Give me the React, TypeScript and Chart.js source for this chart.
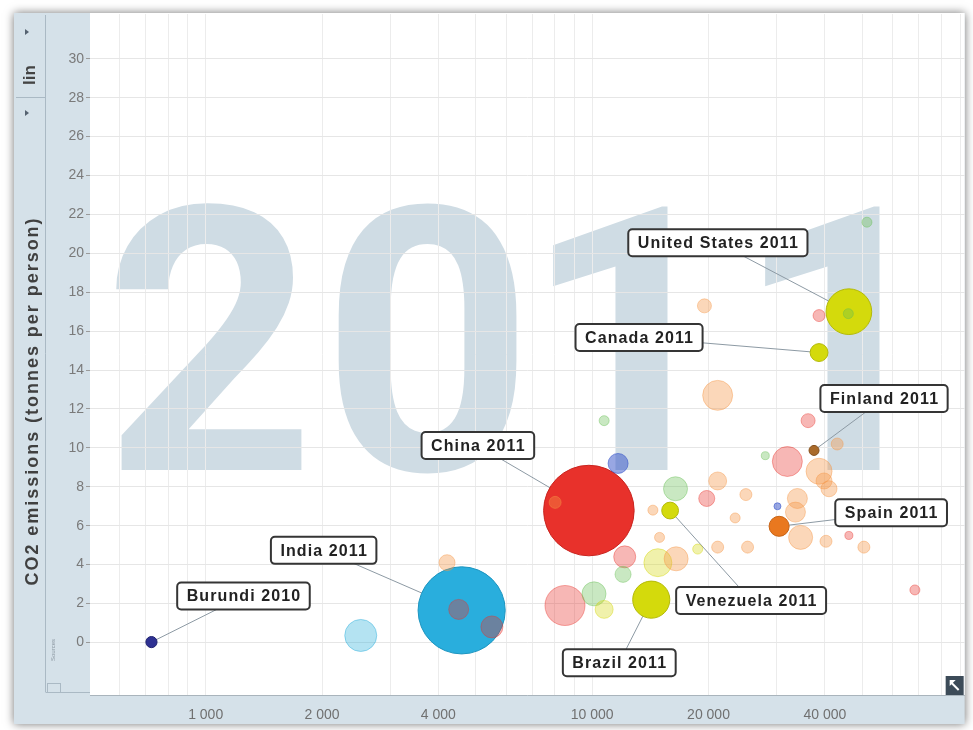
import React, { useEffect, useRef } from 'react';
import { Chart, registerables } from 'chart.js';

Chart.register(...registerables);

// ---------- text ----------
const YEAR = '2011';
const Y_TITLE = 'CO2 emissions (tonnes per person)';
const Y_SCALE_MODE = 'lin';
const SOURCES_TEXT = 'Sources';

// ---------- axes ----------
const X_MIN = 502;
const X_MAX = 92000;
const Y_MIN = -2.7;
const Y_MAX = 32.3;

const xLabelValues = [1000, 2000, 4000, 10000, 20000, 40000];
const xLabelTexts = ['1 000', '2 000', '4 000', '10 000', '20 000', '40 000'];
const xGridValues = [
  600, 700, 800, 900, 1000, 2000, 3000, 4000, 5000, 6000, 7000, 8000, 9000,
  10000, 20000, 30000, 40000, 50000, 60000, 70000, 80000, 90000,
];
const yTickValues = [0, 2, 4, 6, 8, 10, 12, 14, 16, 18, 20, 22, 24, 26, 28, 30];

// ---------- labelled countries ----------
const labeledNames = ['Burundi', 'India', 'China', 'United States', 'Canada', 'Finland', 'Spain', 'Venezuela', 'Brazil'];
const labeledYears = ['2010', '2011', '2011', '2011', '2011', '2011', '2011', '2011', '2011'];
const labeledRegions = ['af', 'sa', 'ea', 'am', 'am', 'eu', 'eu', 'am', 'am'];
const labeledGdp = [724, 4595, 9806, 46150, 38640, 37500, 30460, 15910, 14220];
const labeledCo2 = [0.02, 1.65, 6.78, 17.0, 14.9, 9.87, 5.97, 6.78, 2.2];
const labeledPop = [9.2, 1241, 1344, 312, 34.5, 5.4, 46.2, 29.3, 196.7];

// ---------- other (faded) countries ----------
const otherRegions = [
  'me', 'eu', 'ea', 'eu', 'ea', 'eu', 'me', 'ea', 'eu', 'eu', 'eu', 'eu', 'me', 'ea', 'eu',
  'eu', 'eu', 'af', 'eu', 'eu', 'eu', 'ea', 'eu', 'eu', 'eu', 'eu', 'am', 'am', 'eu', 'eu',
  'ea', 'me', 'af', 'me', 'eu', 'ea', 'me', 'am', 'sa', 'eu', 'ea', 'ea', 'ea', 'me',
];
const otherGdp = [
  51400, 19520, 38640, 21120, 36200, 43050, 28050, 31990, 38640, 39800, 41000, 21120, 16430, 19790, 24990,
  33960, 33570, 30160, 14360, 23440, 34620, 46150, 40270, 50470, 25240, 21120, 18750, 14790, 16490, 14940,
  12140, 12020, 11670, 10740, 8020, 8505, 10110, 10740, 2519, 4212, 4515, 5503, 68390, 46000,
];
const otherCo2 = [
  21.6, 17.3, 16.8, 12.7, 11.4, 10.2, 9.6, 9.3, 8.8, 8.3, 7.9, 8.3, 7.9, 7.4, 7.6,
  7.4, 6.7, 7.0, 6.8, 6.4, 5.4, 5.5, 5.2, 4.9, 4.9, 4.9, 4.8, 4.1, 4.3, 5.4,
  4.4, 3.5, 9.2, 11.4, 7.2, 1.9, 2.5, 1.7, 0.36, 4.1, 1.7, 0.8, 2.7, 16.9,
];
const otherPop = [
  6.5, 18, 11.5, 121, 18, 11.5, 2.9, 121, 87, 26, 26, 35, 72, 26, 11.5,
  46, 46, 0.7, 6.5, 6.5, 72, 2.9, 11.5, 11.5, 11.5, 11.5, 6.5, 103, 72, 6.5,
  58, 26, 46, 6.5, 11.5, 233, 72, 35, 141, 26, 46, 58, 6.5, 6.5,
];

// ---------- styles ----------
const FONT = '"Liberation Sans", Arial, Helvetica, sans-serif';
const WATERMARK_FONT = 'Roboto, "Liberation Sans", Arial, sans-serif';
const PANEL = '#d5e1e9';
const WATERMARK = '#cfdce4';
const REGION_FADED: Record<string, string> = {
  af: 'rgba(50,80,200,0.5)',
  sa: 'rgba(41,174,219,0.35)',
  ea: 'rgba(232,50,43,0.35)',
  am: 'rgba(213,216,15,0.35)',
  eu: 'rgba(245,150,70,0.38)',
  me: 'rgba(100,190,80,0.35)',
};
const REGION_FADED_BORDER: Record<string, string> = {
  af: 'rgba(50,80,200,0.55)',
  sa: 'rgba(41,174,219,0.45)',
  ea: 'rgba(232,50,43,0.4)',
  am: 'rgba(213,216,15,0.45)',
  eu: 'rgba(245,150,70,0.42)',
  me: 'rgba(100,190,80,0.4)',
};
const LABELED_FILL = ['#2e3192', '#29aedd', '#e8312b', '#d4da0c', '#d4da0c', '#a96a2a', '#e9781f', '#d4da0c', '#d4da0c'];
const LABELED_BORDER = ['#1f2270', '#1d95c0', '#c92520', '#b4ba08', '#b4ba08', '#85501c', '#c86416', '#b4ba08', '#b4ba08'];
const LABEL_OFFSETS: [number, number][] = [
  [92, -46], [-138, -60], [-111, -65], [-131, -69], [-180, -15], [70, -52], [112, -13.5], [81, 90], [-32, 63],
];
// watermark glyph anchors relative to the chart area: [inkEdge x, 'left' | 'right']
const WATERMARK_ANCHORS: [number, 'left' | 'right'][] = [[25, 'left'], [243, 'left'], [583, 'right'], [795, 'right']];
const WATERMARK_BASE = 456;
const WATERMARK_HEIGHT = 270;

const radiusFor = (pop: number, minR: number) => Math.max(minR, 2 + 1.18 * Math.sqrt(pop));

type Pt = { x: number; y: number; r: number; fill: string; border: string; label: number };

function buildPoints(): Pt[] {
  const pts: Pt[] = [];
  otherGdp.forEach((g, i) => {
    pts.push({
      x: g, y: otherCo2[i], r: radiusFor(otherPop[i], 3.5),
      fill: REGION_FADED[otherRegions[i]], border: REGION_FADED_BORDER[otherRegions[i]], label: -1,
    });
  });
  labeledGdp.forEach((g, i) => {
    pts.push({
      x: g, y: labeledCo2[i], r: radiusFor(labeledPop[i], 5),
      fill: LABELED_FILL[i], border: LABELED_BORDER[i], label: i,
    });
  });
  pts.sort((a, b) => b.r - a.r);
  return pts;
}

export default function App() {
  const ref = useRef<HTMLCanvasElement>(null);

  useEffect(() => {
    document.body.style.margin = '0';
    const canvas = ref.current;
    if (!canvas) return;
    const points = buildPoints();
    let chart: any = null;
    let cancelled = false;

    const framePlugin = {
      id: 'frame',
      beforeDraw(chart: any) {
        const { ctx, chartArea: a } = chart;
        const fl = 14, ft = 13, fr = a.right, fb = 724;
        ctx.save();
        ctx.fillStyle = '#ffffff';
        ctx.fillRect(0, 0, chart.width, chart.height);
        ctx.shadowColor = 'rgba(0,0,0,0.55)';
        ctx.shadowBlur = 9;
        ctx.fillStyle = PANEL;
        ctx.fillRect(fl, ft, fr - fl, fb - ft);
        ctx.shadowColor = 'transparent';
        ctx.shadowBlur = 0;
        ctx.fillStyle = '#ffffff';
        ctx.fillRect(a.left, ft, a.right - a.left, a.bottom - ft);

        // watermark year
        ctx.fillStyle = WATERMARK;
        ctx.textBaseline = 'alphabetic';
        ctx.textAlign = 'left';
        ctx.font = `bold 100px ${WATERMARK_FONT}`;
        const h100 = ctx.measureText('2').actualBoundingBoxAscent || 71;
        const size = (WATERMARK_HEIGHT / h100) * 100;
        ctx.font = `bold ${size.toFixed(1)}px ${WATERMARK_FONT}`;
        YEAR.split('').forEach((ch, i) => {
          const m = ctx.measureText(ch);
          const [ax, side] = WATERMARK_ANCHORS[i] || [0, 'left'];
          const x = side === 'left'
            ? a.left + ax + m.actualBoundingBoxLeft
            : a.left + ax - m.actualBoundingBoxRight;
          ctx.fillText(ch, x, a.top + WATERMARK_BASE);
        });

        // left panel decorations
        ctx.strokeStyle = '#aab9c4';
        ctx.lineWidth = 1;
        ctx.beginPath();
        ctx.moveTo(45.5, ft + 2);
        ctx.lineTo(45.5, 692);
        ctx.moveTo(fl + 2, 97.5);
        ctx.lineTo(45.5, 97.5);
        ctx.moveTo(45.5, 692.5);
        ctx.lineTo(a.left, 692.5);
        ctx.stroke();
        ctx.strokeRect(47.5, 683.5, 13, 9);

        // small arrows
        ctx.fillStyle = '#556270';
        [32, 113].forEach((yy) => {
          ctx.beginPath();
          ctx.moveTo(25, yy - 3);
          ctx.lineTo(29, yy);
          ctx.lineTo(25, yy + 3);
          ctx.closePath();
          ctx.fill();
        });

        // "lin"
        ctx.save();
        ctx.translate(30, 75);
        ctx.rotate(-Math.PI / 2);
        ctx.fillStyle = '#444';
        ctx.font = `bold 17px ${FONT}`;
        ctx.textAlign = 'center';
        ctx.textBaseline = 'middle';
        ctx.fillText(Y_SCALE_MODE, 0, 0);
        ctx.restore();

        // y title
        ctx.save();
        ctx.translate(33, 401);
        ctx.rotate(-Math.PI / 2);
        ctx.fillStyle = '#404040';
        ctx.font = `bold 18px ${FONT}`;
        const w0 = ctx.measureText(Y_TITLE).width;
        const ls = Math.max(0, (367 - w0) / (Y_TITLE.length - 1));
        (ctx as any).letterSpacing = `${ls.toFixed(2)}px`;
        ctx.textAlign = 'center';
        ctx.textBaseline = 'middle';
        ctx.fillText(Y_TITLE, 0, 0);
        ctx.restore();

        // sources (tiny)
        ctx.save();
        ctx.translate(53, 650);
        ctx.rotate(-Math.PI / 2);
        ctx.fillStyle = '#8a96a0';
        ctx.font = `6px ${FONT}`;
        ctx.textAlign = 'center';
        ctx.textBaseline = 'middle';
        ctx.fillText(SOURCES_TEXT, 0, 0);
        ctx.restore();

        ctx.restore();
      },
      beforeDatasetsDraw(chart: any) {
        const { ctx } = chart;
        const meta = chart.getDatasetMeta(0);
        ctx.save();
        ctx.strokeStyle = '#8d9aa4';
        ctx.lineWidth = 1;
        points.forEach((p, i) => {
          if (p.label < 0) return;
          const el = meta.data[i];
          const [dx, dy] = LABEL_OFFSETS[p.label];
          ctx.beginPath();
          ctx.moveTo(el.x + dx, el.y + dy);
          ctx.lineTo(el.x, el.y);
          ctx.stroke();
        });
        ctx.restore();
      },
      afterDatasetsDraw(chart: any) {
        const { ctx } = chart;
        const meta = chart.getDatasetMeta(0);
        ctx.save();
        ctx.font = `bold 16px ${FONT}`;
        (ctx as any).letterSpacing = '1.1px';
        ctx.textAlign = 'center';
        ctx.textBaseline = 'middle';
        points.forEach((p, i) => {
          if (p.label < 0) return;
          const el = meta.data[i];
          const [dx, dy] = LABEL_OFFSETS[p.label];
          const cx = el.x + dx;
          const cy = el.y + dy;
          const text = `${labeledNames[p.label]} ${labeledYears[p.label]}`;
          const w = ctx.measureText(text).width + 18;
          const h = 27;
          ctx.beginPath();
          ctx.roundRect(cx - w / 2, cy - h / 2, w, h, 4);
          ctx.fillStyle = '#ffffff';
          ctx.fill();
          ctx.lineWidth = 2;
          ctx.strokeStyle = '#353535';
          ctx.stroke();
          ctx.fillStyle = '#222222';
          ctx.fillText(text, cx + 0.5, cy + 1);
        });
        ctx.restore();
      },
      afterDraw(chart: any) {
        const { ctx, chartArea: a } = chart;
        ctx.save();
        const x = a.right - 19, y = a.bottom - 19;
        ctx.fillStyle = '#3c4b58';
        ctx.fillRect(x, y, 18, 19);
        ctx.strokeStyle = '#ffffff';
        ctx.fillStyle = '#ffffff';
        ctx.lineWidth = 2;
        ctx.beginPath();
        ctx.moveTo(x + 13, y + 14);
        ctx.lineTo(x + 6, y + 7);
        ctx.stroke();
        ctx.beginPath();
        ctx.moveTo(x + 4, y + 4);
        ctx.lineTo(x + 10, y + 4);
        ctx.lineTo(x + 4, y + 10);
        ctx.closePath();
        ctx.fill();
        ctx.restore();
      },
    };

    const build = () => {
      if (cancelled) return;
      chart = new Chart(canvas, {
        type: 'bubble',
        data: {
          datasets: [
            {
              data: points.map((p) => ({ x: p.x, y: p.y, r: p.r })),
              backgroundColor: points.map((p) => p.fill),
              borderColor: points.map((p) => p.border),
              borderWidth: 1,
            },
          ],
        },
        options: {
          responsive: false,
          devicePixelRatio: 1,
          animation: false,
          events: [],
          layout: { autoPadding: false, padding: { left: 14, top: 14, right: 5, bottom: 5 } },
          plugins: { legend: { display: false }, tooltip: { enabled: false } },
          scales: {
            x: {
              type: 'logarithmic',
              min: X_MIN,
              max: X_MAX,
              afterBuildTicks: (s: any) => {
                s.ticks = xGridValues.map((v) => ({ value: v }));
              },
              afterFit: (s: any) => {
                s.height = 30;
              },
              ticks: {
                autoSkip: false,
                maxRotation: 0,
                minRotation: 0,
                padding: 12,
                color: '#707070',
                font: { size: 14, family: FONT },
                callback: (v: any) => {
                  const i = xLabelValues.indexOf(Number(v));
                  return i >= 0 ? xLabelTexts[i] : '';
                },
              },
              grid: { color: '#ececec', drawTicks: false },
              border: { color: '#a9b4bc' },
            },
            y: {
              type: 'linear',
              min: Y_MIN,
              max: Y_MAX,
              afterBuildTicks: (s: any) => {
                s.ticks = yTickValues.map((v) => ({ value: v }));
              },
              afterFit: (s: any) => {
                s.width = 76;
              },
              ticks: {
                padding: 2,
                color: '#7a7a7a',
                font: { size: 14, family: FONT },
              },
              grid: { color: '#e6e6e6', tickLength: 4, tickColor: '#9a9a9a' },
              border: { display: false },
            },
          },
        } as any,
        plugins: [framePlugin],
      });
    };

    const fontsApi: any = (document as any).fonts;
    if (fontsApi && fontsApi.load) {
      Promise.all(
        ['bold 20px "Liberation Sans"', '20px "Liberation Sans"', 'bold 20px Roboto'].map((f) =>
          fontsApi.load(f).catch(() => null),
        ),
      ).then(build, build);
    } else {
      build();
    }

    return () => {
      cancelled = true;
      if (chart) chart.destroy();
    };
  }, []);

  return (
    <div style={{ width: 973, height: 730, position: 'relative', background: '#fff' }}>
      <canvas ref={ref} width={973} height={730} style={{ display: 'block', width: 973, height: 730 }} />
    </div>
  );
}
